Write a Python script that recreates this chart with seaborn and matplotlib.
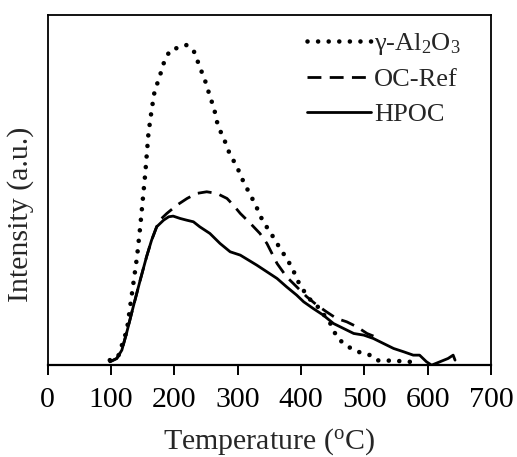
import matplotlib
matplotlib.use("Agg")
import matplotlib.pyplot as plt
import seaborn as sns
import pandas as pd

# TPD profiles: temperature (°C) and intensity (arbitrary units)
al2o3_temp = [98, 111, 125, 133, 141, 146, 151, 154, 159, 164, 169, 175, 183, 193, 201,
              209, 219, 230, 240, 251, 256, 262, 269, 277, 288, 296, 301, 309, 320, 327,
              340, 351, 362, 372, 385, 398, 409, 419, 430, 438, 448, 456, 467, 483, 498,
              509, 519, 530, 546, 562, 577]
al2o3_int = [15, 25, 105, 215, 325, 415, 515, 575, 695, 765, 825, 855, 905, 945, 950,
             952, 960, 945, 895, 840, 805, 775, 715, 685, 630, 605, 585, 550, 510, 485,
             430, 400, 365, 335, 295, 240, 210, 185, 170, 145, 120, 85, 65, 45, 35,
             30, 15, 12, 15, 10, 10]

ocref_temp = [98, 109, 117, 125, 135, 146, 156, 164, 172, 177, 188, 204, 220, 235, 251,
              267, 283, 293, 304, 320, 335, 346, 362, 377, 393, 409, 425, 440, 456, 472,
              488, 504, 517]
ocref_int = [10, 20, 45, 100, 175, 255, 325, 375, 415, 435, 455, 480, 500, 515, 520,
             515, 500, 480, 455, 425, 395, 365, 305, 265, 235, 205, 180, 160, 140, 130,
             115, 95, 85]

hpoc_temp = [98, 109, 117, 125, 135, 146, 156, 164, 172, 183, 191, 198, 209, 219, 230,
             240, 256, 272, 288, 304, 317, 330, 346, 362, 377, 393, 404, 419, 435, 451,
             467, 483, 499, 514, 530, 546, 562, 577, 587, 598, 606, 619, 632, 640, 643]
hpoc_int = [10, 20, 45, 100, 175, 255, 325, 375, 415, 435, 445, 447, 440, 435, 430,
            415, 395, 365, 340, 330, 315, 300, 280, 260, 235, 210, 190, 170, 150, 125,
            110, 95, 90, 80, 65, 50, 40, 30, 30, 10, 0, 10, 20, 30, 15]

x_ticks = [0, 100, 200, 300, 400, 500, 600, 700]

sns.set_style("ticks")
plt.rcParams["font.family"] = ["Liberation Serif", "DejaVu Serif"]
plt.rcParams["mathtext.fontset"] = "custom"
plt.rcParams["mathtext.rm"] = "Liberation Serif"
plt.rcParams["mathtext.it"] = "Liberation Serif:italic"

fig = plt.figure(figsize=(5.17, 4.57), dpi=100)
ax = fig.add_axes([0.0923, 0.201, 0.8577, 0.766])

df_a = pd.DataFrame({"T": al2o3_temp, "I": al2o3_int})
df_o = pd.DataFrame({"T": ocref_temp, "I": ocref_int})
df_h = pd.DataFrame({"T": hpoc_temp, "I": hpoc_int})

sns.lineplot(data=df_a, x="T", y="I", ax=ax, color="black", lw=3.3,
             linestyle=(0, (0.01, 2.3)), dash_capstyle="round",
             label=r"γ-Al$_{\rm 2}$O$_{\rm 3}$")
sns.lineplot(data=df_o, x="T", y="I", ax=ax, color="black", lw=2.0,
             linestyle=(0, (5.0, 3.0)), label="OC-Ref")
sns.lineplot(data=df_h, x="T", y="I", ax=ax, color="black", lw=2.0,
             label="HPOC")

ax.set_xlim(0, 700)
ax.set_ylim(0, 1050)
ax.set_xticks(x_ticks)
ax.set_yticks([])
ax.tick_params(axis="x", direction="out", length=7, width=1.4, labelsize=21.5,
               pad=9, colors="black")
for side in ["left", "right", "top", "bottom"]:
    ax.spines[side].set_visible(True)
    ax.spines[side].set_color("black")
    ax.spines[side].set_linewidth(1.3)
ax.spines["bottom"].set_linewidth(1.6)

ax.set_xlabel(r"Temperature ($^{\rm o}$C)", fontsize=21.5, labelpad=9)
ax.set_ylabel("Intensity (a.u.)", fontsize=21.5)
ax.yaxis.set_label_coords(-0.03, 0.43)

leg = ax.legend(loc="upper left", bbox_to_anchor=(0.562, 0.985), frameon=False,
                fontsize=19, handlelength=2.4, handletextpad=0.12,
                labelspacing=0.42, borderaxespad=0.0)

fig.savefig("out.png", dpi=100)
